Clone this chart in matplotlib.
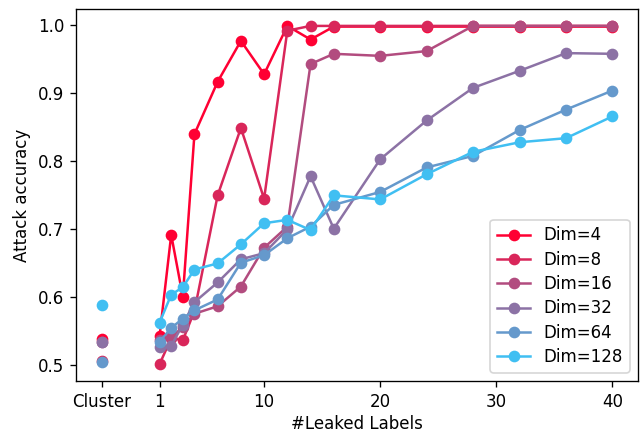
import matplotlib
matplotlib.use("Agg")
import matplotlib.pyplot as plt

x_pos = [-4, 1, 2, 3, 4, 6, 8, 10, 12, 14, 16, 20, 24, 28, 32, 36, 40]
tick_pos = [-4, 1, 10, 20, 30, 40]
tick_labels = ["Cluster", "1", "10", "20", "30", "40"]

labels = ["Dim=4", "Dim=8", "Dim=16", "Dim=32", "Dim=64", "Dim=128"]
colors = ["#FF0033", "#D9265A", "#B24C7F", "#8C72A5", "#6599CC", "#40BFF2"]

dim4 = [0.539, 0.544, 0.692, 0.601, 0.840, 0.917, 0.977, 0.928, 0.999, 0.979, 0.998, 0.998, 0.998, 0.998, 0.998, 0.998, 0.998]
dim8 = [0.506, 0.502, 0.540, 0.537, 0.580, 0.750, 0.849, 0.745, 0.992, 0.999, 0.999, 0.999, 0.999, 0.999, 0.999, 0.999, 0.999]
dim16 = [0.535, 0.537, 0.542, 0.556, 0.576, 0.587, 0.616, 0.673, 0.704, 0.943, 0.958, 0.955, 0.962, 0.999, 0.999, 0.999, 0.999]
dim32 = [0.534, 0.527, 0.529, 0.560, 0.593, 0.622, 0.656, 0.665, 0.700, 0.778, 0.701, 0.803, 0.860, 0.908, 0.933, 0.959, 0.958]
dim64 = [0.505, 0.535, 0.555, 0.569, 0.581, 0.597, 0.651, 0.662, 0.687, 0.704, 0.736, 0.755, 0.791, 0.808, 0.846, 0.876, 0.904]
dim128 = [0.589, 0.563, 0.604, 0.615, 0.641, 0.650, 0.678, 0.709, 0.714, 0.699, 0.750, 0.744, 0.781, 0.814, 0.828, 0.834, 0.866]

series = [dim4, dim8, dim16, dim32, dim64, dim128]

fig = plt.figure(figsize=(641 / 120, 432 / 120), dpi=120)
ax = fig.add_axes([76 / 641, 1 - 381 / 432, (638 - 76) / 641, (381 - 9) / 432])

for vals, lab, col in zip(series, labels, colors):
    # cluster point isolated, rest connected
    ax.plot(x_pos[:1], vals[:1], "o", color=col)
    ax.plot(x_pos[1:], vals[1:], "-o", color=col, label=lab)

ax.set_xticks(tick_pos)
ax.set_xticklabels(tick_labels)
ax.set_xlabel("#Leaked Labels", labelpad=2.5)
ax.set_ylabel("Attack accuracy")
ax.legend(loc="lower right", labelspacing=0.38)

fig.savefig("out.png", dpi=120)
